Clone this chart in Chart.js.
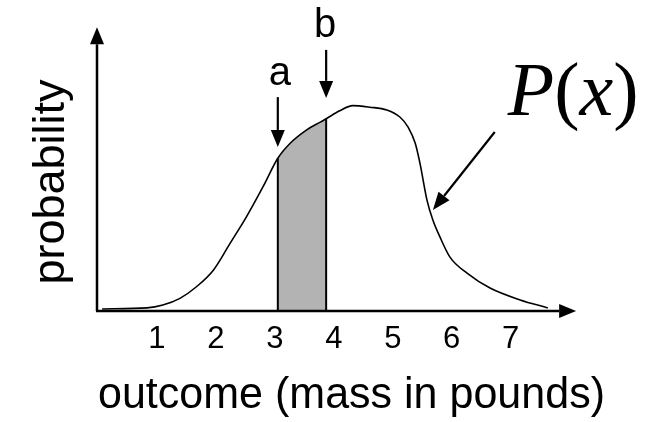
<!DOCTYPE html>
<html>
<head>
<meta charset="utf-8">
<script src="https://cdn.jsdelivr.net/npm/chart.js@4"></script>
<style>
  html, body { margin: 0; padding: 0; background: #fff; }
  canvas { display: block; }
</style>
</head>
<body>
<canvas id="chart" width="656" height="422"></canvas>
<script>
// curve P(x) (x in pounds, y in arbitrary probability units)
const curveX = [0.07, 0.83, 1.10, 1.39, 1.67, 1.96, 2.24, 2.52, 2.80, 3.05, 3.26, 3.54, 3.77, 3.87,
  4.10, 4.32, 4.61, 4.90, 5.12, 5.26, 5.38, 5.46, 5.58, 5.68, 5.80, 5.97, 6.26, 6.65, 7.16, 7.63];
const curveY = [0.008, 0.012, 0.023, 0.049, 0.094, 0.159, 0.262, 0.366, 0.482, 0.592, 0.650, 0.702, 0.732, 0.745,
  0.776, 0.796, 0.790, 0.779, 0.752, 0.713, 0.651, 0.574, 0.430, 0.353, 0.287, 0.209, 0.147, 0.089, 0.043, 0.012];

// x tick labels
const tickValues = [1, 2, 3, 4, 5, 6, 7];

// shaded interval [a, b]
const boundA = 3.05;
const boundB = 3.87;

// annotation anchors, in data units
const yAxisTop = 1.10;
const xAxisEnd = 8.11;
const arrowA = { x: boundA, from: 0.829, to: 0.636 };
const arrowB = { x: boundB, from: 1.012, to: 0.826 };
const arrowP = { fromX: 6.73, fromY: 0.694, toX: 5.68, toY: 0.391 };
const labelP = { x: 6.95, y: 0.760 };

const SANS = '"Liberation Sans", Arial, Helvetica, sans-serif';
const SERIF = '"Liberation Serif", "Times New Roman", serif';

const points = curveX.map((x, i) => ({ x, y: curveY[i] }));
const shaded = points.filter((p) => p.x >= boundA && p.x <= boundB);
const edge = (x) => {
  const p = points.find((q) => q.x === x);
  return [{ x, y: 0 }, { x, y: p.y }];
};

function arrow(ctx, x0, y0, x1, y1, width, headW, headL) {
  const ang = Math.atan2(y1 - y0, x1 - x0);
  const bx = x1 - headL * Math.cos(ang);
  const by = y1 - headL * Math.sin(ang);
  ctx.lineWidth = width;
  ctx.beginPath();
  ctx.moveTo(x0, y0);
  ctx.lineTo(bx, by);
  ctx.stroke();
  ctx.beginPath();
  ctx.moveTo(x1, y1);
  ctx.lineTo(bx + (headW / 2) * Math.sin(ang), by - (headW / 2) * Math.cos(ang));
  ctx.lineTo(bx - (headW / 2) * Math.sin(ang), by + (headW / 2) * Math.cos(ang));
  ctx.closePath();
  ctx.fill();
}

const annotate = {
  id: 'annotate',
  afterDatasetsDraw(chart) {
    const { ctx, scales: { x, y } } = chart;
    const px = (v) => x.getPixelForValue(v);
    const py = (v) => y.getPixelForValue(v);
    ctx.save();
    ctx.strokeStyle = '#000';
    ctx.fillStyle = '#000';
    ctx.lineCap = 'butt';

    // axes with arrow heads
    arrow(ctx, px(0) - 1, py(0), px(0) - 1, py(yAxisTop), 2.5, 14, 17);
    arrow(ctx, px(0) - 2, py(0), px(xAxisEnd), py(0), 2.5, 14, 17);

    // a and b markers
    arrow(ctx, px(arrowA.x), py(arrowA.from), px(arrowA.x), py(arrowA.to), 2.2, 14, 17);
    arrow(ctx, px(arrowB.x), py(arrowB.from), px(arrowB.x), py(arrowB.to), 2.2, 14, 17);
    ctx.font = `40px ${SANS}`;
    ctx.textAlign = 'center';
    ctx.textBaseline = 'alphabetic';
    ctx.fillText('a', px(arrowA.x) + 2, py(arrowA.from) - 12);
    ctx.fillText('b', px(arrowB.x) - 1, py(arrowB.from) - 13);

    // P(x) label and pointer
    arrow(ctx, px(arrowP.fromX), py(arrowP.fromY), px(arrowP.toX), py(arrowP.toY), 2.2, 14, 18);
    ctx.textAlign = 'left';
    let cx = px(labelP.x);
    const by = py(labelP.y);
    const parts = [['P', 'italic '], ['(', ''], ['x', 'italic '], [')', '']];
    parts.forEach(([t, style]) => {
      ctx.font = `${style}76px ${SERIF}`;
      ctx.fillText(t, cx, by);
      cx += ctx.measureText(t).width;
    });
    ctx.restore();
  },
};

new Chart(document.getElementById('chart'), {
  type: 'line',
  data: {
    datasets: [
      {
        label: 'P(x)',
        data: points,
        borderColor: '#000',
        borderWidth: 1.6,
        pointRadius: 0,
        fill: false,
        cubicInterpolationMode: 'monotone',
        order: 1,
      },
      {
        label: 'area',
        data: shaded,
        borderWidth: 0,
        borderColor: 'rgba(0,0,0,0)',
        backgroundColor: '#b3b3b3',
        pointRadius: 0,
        fill: 'origin',
        cubicInterpolationMode: 'monotone',
        order: 3,
      },
      {
        label: 'a',
        data: edge(boundA),
        borderColor: '#000',
        borderWidth: 2,
        pointRadius: 0,
        order: 2,
      },
      {
        label: 'b',
        data: edge(boundB),
        borderColor: '#000',
        borderWidth: 2,
        pointRadius: 0,
        order: 2,
      },
    ],
  },
  options: {
    responsive: false,
    animation: false,
    layout: {
      padding: { left: 21, right: 51, top: 53, bottom: 0 },
    },
    plugins: {
      legend: { display: false },
      tooltip: { enabled: false },
    },
    scales: {
      x: {
        type: 'linear',
        min: 0,
        max: 8.6,
        afterBuildTicks: (axis) => {
          axis.ticks = tickValues.map((v) => ({ value: v }));
        },
        afterFit: (axis) => {
          axis.height = 111;
        },
        grid: { display: false, drawTicks: false },
        border: { display: false },
        ticks: {
          color: '#000',
          padding: 10,
          maxRotation: 0,
          autoSkip: false,
          font: { family: SANS, size: 31 },
        },
        title: {
          display: true,
          text: 'outcome (mass in pounds)',
          color: '#000',
          font: { family: SANS, size: 44 },
          padding: { top: 0, bottom: 0 },
        },
      },
      y: {
        min: 0,
        max: 1,
        afterFit: (axis) => {
          axis.width = 77;
        },
        grid: { display: false, drawTicks: false },
        border: { display: false },
        ticks: { display: false },
        title: {
          display: true,
          text: 'probability',
          color: '#000',
          font: { family: SANS, size: 45 },
          padding: { top: 4, bottom: 0 },
        },
      },
    },
  },
  plugins: [annotate],
});
</script>
</body>
</html>
